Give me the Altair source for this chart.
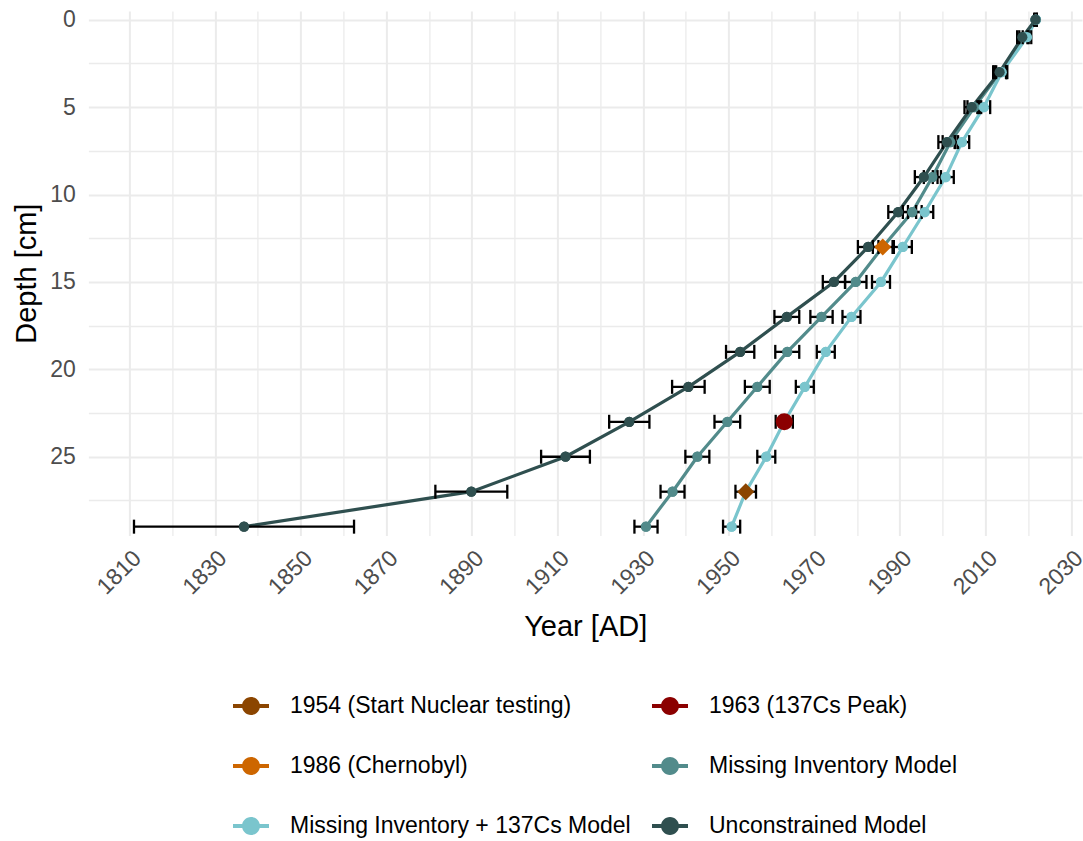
import altair as alt
import pandas as pd

# Core depths (cm) shared by all age-depth models
depths = [0, 1, 3, 5, 7, 9, 11, 13, 15, 17, 19, 21, 23, 25, 27, 29]

# Modelled ages (year AD) and half-width of the uncertainty per depth
unconstrained_year = [2021.7, 2018.6, 2013.3, 2006.8, 2001.0, 1995.6, 1989.6, 1982.6,
                      1974.6, 1963.6, 1952.7, 1940.6, 1926.8, 1911.9, 1889.9, 1836.8]
unconstrained_err = [0.3, 1.2, 1.5, 1.7, 2.0, 2.1, 2.3, 2.4,
                     2.6, 2.9, 3.3, 3.8, 4.7, 5.7, 8.4, 25.7]

missing_year = [2021.7, 2019.0, 2013.5, 2007.4, 2001.8, 1997.6, 1992.9, 1986.0,
                1979.7, 1971.7, 1963.7, 1956.7, 1949.7, 1942.7, 1936.9, 1930.7]
missing_err = [0.3, 1.1, 1.4, 1.6, 1.8, 2.0, 2.2, 2.3,
               2.5, 2.6, 2.8, 2.9, 3.0, 2.8, 2.8, 2.7]

cs_year = [2021.8, 2019.7, 2013.8, 2009.6, 2004.5, 2000.7, 1995.8, 1990.7,
           1985.6, 1978.7, 1972.7, 1967.8, 1963.0, 1958.8, 1954.0, 1950.7]
cs_err = [0.2, 1.0, 1.3, 1.5, 1.7, 1.9, 2.0, 2.1,
          2.1, 2.1, 2.1, 2.1, 2.0, 2.1, 2.4, 2.0]

series_names = ["Missing Inventory Model", "Missing Inventory + 137Cs Model", "Unconstrained Model"]

# 137Cs time markers
event_labels = ["1954 (Start Nuclear testing)", "1963 (137Cs Peak)", "1986 (Chernobyl)"]
event_years = [1954, 1963, 1986]
event_depths = [27, 23, 13]

legend_order = [
    "1954 (Start Nuclear testing)", "1963 (137Cs Peak)",
    "1986 (Chernobyl)", "Missing Inventory Model",
    "Missing Inventory + 137Cs Model", "Unconstrained Model",
]
legend_colors = ["#8B4500", "#8B0000", "#CD6600", "#528B8B", "#7AC5CD", "#2F4F4F"]

rows = []
for name, years, errs in [
    ("Missing Inventory Model", missing_year, missing_err),
    ("Missing Inventory + 137Cs Model", cs_year, cs_err),
    ("Unconstrained Model", unconstrained_year, unconstrained_err),
]:
    for d, yr, e in zip(depths, years, errs):
        rows.append({"series": name, "depth": d, "year": yr, "lo": yr - e, "hi": yr + e})
df = pd.DataFrame(rows)

events = pd.DataFrame({"label": event_labels, "year": event_years, "depth": event_depths})

FONT = "Liberation Sans"
W, H = 993.6, 524.4

x_scale = alt.Scale(domain=[1800.45, 2032.55], nice=False, zero=False)
y_scale = alt.Scale(domain=[-0.5, 29.5], reverse=True, nice=False, zero=False)
color_scale = alt.Scale(domain=legend_order, range=legend_colors)

x_axis = alt.Axis(
    values=list(range(1810, 2031, 10)), format="d",
    labelExpr="datum.value % 20 == 10 ? datum.label : ''",
    labelAngle=-45, labelAlign="right", labelBaseline="top", labelPadding=11,
    labelFontSize=23, labelColor="#4D4D4D", labelFont=FONT, labelOverlap=False, labelFlush=False,
    labelBound=False,
    ticks=False, domain=False, grid=True, gridColor="#EBEBEB",
    gridWidth={"condition": {"test": "datum.value % 20 == 10", "value": 2}, "value": 1.3},
    title="Year [AD]", titleFont=FONT, titleFontSize=29, titleFontWeight="normal", titleColor="black",
    titleX=W / 2, titleY=99.6, titleAlign="center", titleBaseline="alphabetic",
)
y_axis = alt.Axis(
    values=[v * 2.5 for v in range(12)],
    labelExpr="datum.value % 5 == 0 ? datum.label : ''",
    labelPadding=13, labelFontSize=23, labelColor="#4D4D4D", labelFont=FONT, labelOverlap=False,
    labelFlush=False,
    ticks=False, domain=False, grid=True, gridColor="#EBEBEB",
    gridWidth={"condition": {"test": "datum.value % 5 == 0", "value": 2}, "value": 1.3},
    title="Depth [cm]", titleFont=FONT, titleFontSize=29, titleFontWeight="normal", titleColor="black",
    titleAngle=-90, titleX=-53.4, titleY=H / 2, titleAlign="center", titleBaseline="alphabetic",
)

X = alt.X("year:Q", scale=x_scale, axis=x_axis)
Y = alt.Y("depth:Q", scale=y_scale, axis=y_axis)

# legend key: a short line with a dot on it
key_path = "M-1,-0.11H1V0.11H-1Z M0.5,0A0.5,0.5,0,1,1,-0.5,0A0.5,0.5,0,1,1,0.5,0Z"
legend = alt.Legend(
    orient="none", legendX=144.6, legendY=677, columns=2, direction="horizontal", title=None,
    symbolType=key_path, symbolSize=1296, symbolStrokeWidth=0, symbolOpacity=1,
    labelFont=FONT, labelFontSize=23, labelColor="black", labelOffset=21,
    columnPadding=21, rowPadding=30, padding=0, labelLimit=600,
)

base = alt.Chart(df)
color = alt.Color("series:N", scale=color_scale, legend=legend)

# the first (hidden under everything) point layer sets the legend keys to filled symbols
legend_points = base.mark_circle(size=105, opacity=1).encode(x=X, y=Y, color=color)
lines = base.mark_line(strokeWidth=3.2).encode(x=X, y=Y, order="depth:Q", color=color)
bars = base.mark_rule(color="black", strokeWidth=2.3, opacity=1).encode(
    x="lo:Q", x2="hi:Q", y="depth:Q"
)
caps_lo = base.mark_tick(orient="vertical", color="black", size=14, thickness=2.3, opacity=1).encode(
    x="lo:Q", y="depth:Q"
)
caps_hi = base.mark_tick(orient="vertical", color="black", size=14, thickness=2.3, opacity=1).encode(
    x="hi:Q", y="depth:Q"
)
points = base.mark_circle(size=105, opacity=1).encode(x=X, y=Y, color=color)
markers = alt.Chart(events).mark_point(filled=True, opacity=1, strokeWidth=0).encode(
    x=alt.X("year:Q", scale=x_scale, axis=x_axis),
    y=alt.Y("depth:Q", scale=y_scale, axis=y_axis),
    color=alt.Color("label:N", scale=color_scale, legend=legend),
    shape=alt.Shape("label:N", scale=alt.Scale(domain=event_labels, range=["diamond", "circle", "diamond"]), legend=None),
    size=alt.Size("label:N", scale=alt.Scale(domain=event_labels, range=[290, 290, 300]), legend=None),
)

chart = alt.layer(legend_points, lines, bars, caps_lo, caps_hi, points, markers).properties(
    width=W, height=H,
    padding={"left": 88.4, "top": 11, "right": 1, "bottom": 305.6},
    autosize=alt.AutoSizeParams(type="none"),
    background="white",
).configure_view(stroke=None)

chart.save("out.html", embed_options={"renderer": "svg", "actions": False})
